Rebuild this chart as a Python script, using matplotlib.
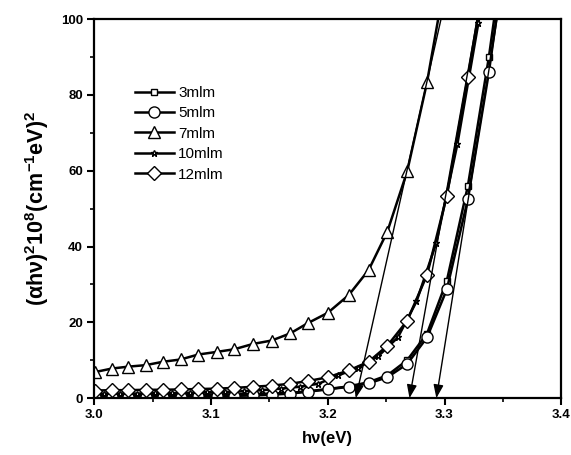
import matplotlib
matplotlib.use('Agg')
import matplotlib.pyplot as plt
from matplotlib.ticker import MultipleLocator

plt.rcParams['font.family'] = ['Liberation Sans', 'DejaVu Sans']
plt.rcParams['mathtext.fontset'] = 'custom'
plt.rcParams['mathtext.rm'] = 'Liberation Sans:bold'
plt.rcParams['mathtext.bf'] = 'Liberation Sans:bold'
plt.rcParams['mathtext.it'] = 'Liberation Sans:bold'

# photon energy grid (eV)
energy = [3.001, 3.015, 3.029, 3.044, 3.059, 3.074, 3.089, 3.105, 3.120, 3.136, 3.152,
          3.168, 3.183, 3.200, 3.218, 3.235, 3.251, 3.268, 3.285, 3.302, 3.320, 3.338, 3.356]
energy_10 = [3.008, 3.022, 3.037, 3.052, 3.067, 3.082, 3.097, 3.112, 3.128, 3.144, 3.160,
             3.176, 3.192, 3.209, 3.226, 3.243, 3.260, 3.276, 3.293, 3.311, 3.329, 3.347]

y_3 = [0.8, 0.8, 0.8, 0.8, 0.9, 0.9, 0.9, 1.0, 1.0, 1.1, 1.2,
       1.4, 1.8, 2.4, 3.1, 4.2, 6.0, 10.0, 17.0, 31.0, 56.0, 90.0, 130.0]
y_5 = [0.3, 0.3, 0.3, 0.4, 0.4, 0.4, 0.5, 0.5, 0.6, 0.7, 0.9,
       1.2, 1.7, 2.3, 3.0, 3.9, 5.5, 9.0, 16.0, 28.7, 52.5, 86.0, 126.0]
y_7 = [6.9, 7.8, 8.3, 8.7, 9.6, 10.2, 11.5, 12.2, 12.9, 14.3, 15.2,
       17.1, 19.8, 22.5, 27.2, 33.8, 43.9, 59.8, 83.3, 113.0]
y_10 = [1.2, 1.2, 1.2, 1.3, 1.3, 1.4, 1.5, 1.6, 1.8, 2.1, 2.5,
        3.0, 3.8, 6.0, 8.0, 11.0, 16.0, 25.5, 41.0, 67.0, 99.0, 135.0]
y_12 = [2.0, 2.1, 2.1, 2.2, 2.2, 2.3, 2.4, 2.5, 2.7, 3.0, 3.3,
        3.8, 4.5, 5.5, 7.3, 9.6, 13.8, 20.4, 32.5, 53.4, 84.7, 118.0]

labels = ['3mlm', '5mlm', '7mlm', '10mlm', '12mlm']

# tangent extrapolations: intercept on x axis and point where they leave the top
tangent_x0 = [3.224, 3.270, 3.293]
tangent_x100 = [3.297, 3.328, 3.345]

fig = plt.figure(figsize=(5.71, 4.55), dpi=100)
ax = fig.add_axes([0.165, 0.125, 0.818, 0.833])

kw = dict(color='black', lw=1.8, mec='black', mfc='white', mew=1.0)
ax.plot(energy, y_3, marker='s', ms=5, label=labels[0], **kw)
ax.plot(energy, y_5, marker='o', ms=8, label=labels[1], **kw)
ax.plot(energy[:len(y_7)], y_7, marker='^', ms=9, label=labels[2], **kw)
ax.plot(energy_10, y_10, marker='*', ms=5, label=labels[3], **kw)
ax.plot(energy[:len(y_12)], y_12, marker='D', ms=7, label=labels[4], **kw)

for x0, x1 in zip(tangent_x0, tangent_x100):
    ax.annotate('', xy=(x0, 0), xytext=(x1, 100),
                arrowprops=dict(arrowstyle='-|>,head_length=0.8,head_width=0.3',
                                color='black', lw=1.0, shrinkA=0, shrinkB=0))

ax.set_xlim(3.0, 3.4)
ax.set_ylim(0, 100)
ax.xaxis.set_major_locator(MultipleLocator(0.1))
ax.xaxis.set_minor_locator(MultipleLocator(0.05))
ax.yaxis.set_major_locator(MultipleLocator(20))
ax.yaxis.set_minor_locator(MultipleLocator(10))
ax.tick_params(which='major', direction='out', length=5, width=1.5, labelsize=9.5, pad=3)
ax.tick_params(which='minor', direction='out', length=3, width=1.2)
ax.xaxis.set_major_formatter(plt.FuncFormatter(lambda v, p: f'{v:.1f}'))
for t in ax.get_xticklabels() + ax.get_yticklabels():
    t.set_fontweight('bold')
for s in ax.spines.values():
    s.set_linewidth(1.6)

ax.set_xlabel('hν(eV)', fontsize=12, fontweight='bold', labelpad=7)
ax.set_ylabel(r'$(\alpha h\nu)^2 10^8 (cm^{-1}eV)^2$', fontsize=15.5, labelpad=7)

ax.legend(loc='upper left', bbox_to_anchor=(0.075, 0.84), frameon=False, fontsize=11,
          handlelength=2.5, handletextpad=0.3, labelspacing=0.42, borderaxespad=0)

fig.savefig('out.png', dpi=100)
